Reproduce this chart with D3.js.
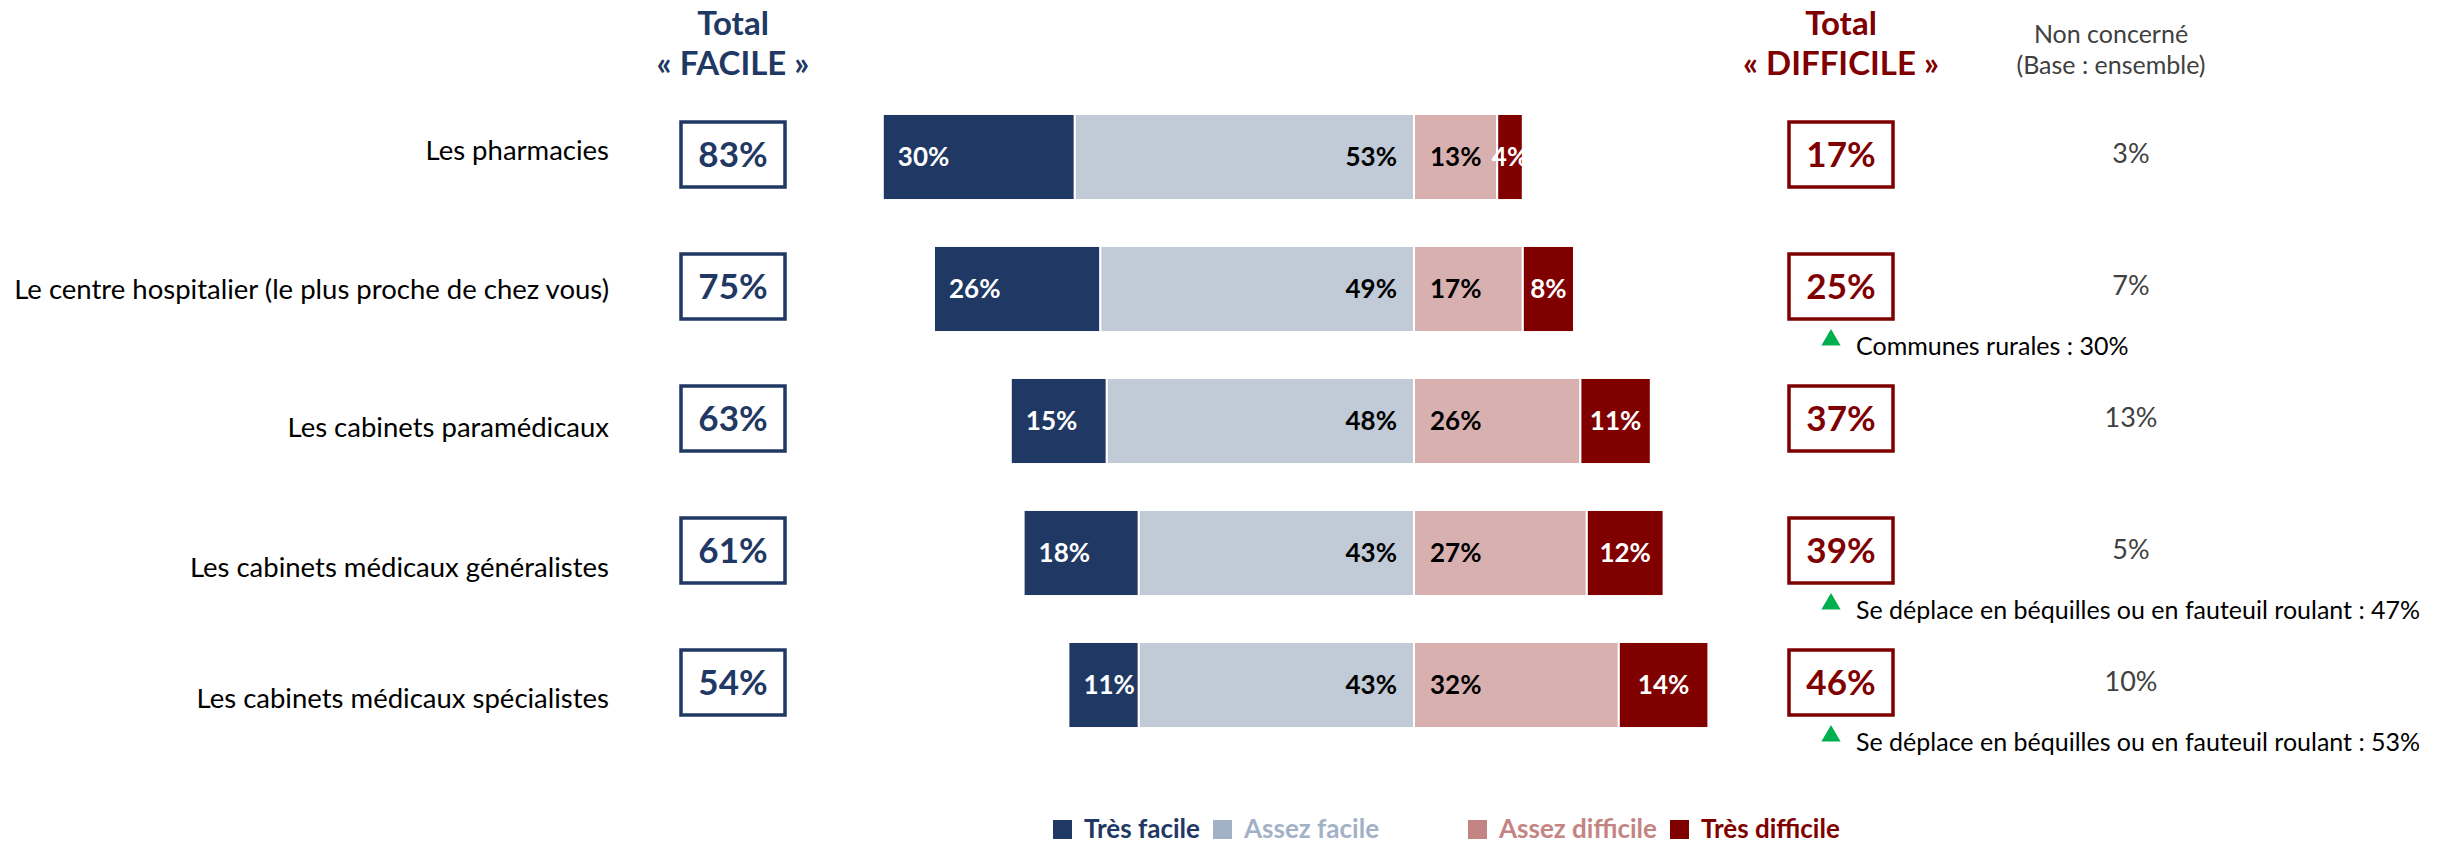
<!DOCTYPE html>
<html>
<head>
<meta charset="utf-8">
<script src="https://cdn.jsdelivr.net/npm/d3@7"></script>
<style>
  body { margin: 0; background: #fff; }
  svg text { font-family: Lato, "Open Sans", sans-serif; }
</style>
</head>
<body>
<svg id="chart"></svg>
<script>
const categories = [
  "Les pharmacies",
  "Le centre hospitalier (le plus proche de chez vous)",
  "Les cabinets paramédicaux",
  "Les cabinets médicaux généralistes",
  "Les cabinets médicaux spécialistes"
];
const tresFacile = [30, 26, 15, 18, 11];
const assezFacile = [53, 49, 48, 43, 43];
const assezDifficile = [13, 17, 26, 27, 32];
const tresDifficile = [4, 8, 11, 12, 14];
const totalFacile = [83, 75, 63, 61, 54];
const totalDifficile = [17, 25, 37, 39, 46];
const nonConcerne = [3, 7, 13, 5, 10];
const notes = [
  null,
  "Communes rurales : 30%",
  null,
  "Se déplace en béquilles ou en fauteuil roulant : 47%",
  "Se déplace en béquilles ou en fauteuil roulant : 53%"
];
const seriesNames = ["Très facile", "Assez facile", "Assez difficile", "Très difficile"];

const width = 2450, height = 845;
const navy = "#1f3864", darkRed = "#7f0000";
const barColors = ["#203864", "#c1cad7", "#d9b0b0", "#800000"];
const legendColors = ["#203864", "#a3b1c6", "#c48483", "#800000"];
const labelOffset = [-7, 0, 6, 14, 13]; // category labels sit a bit off-centre in the original

const svg = d3.select("#chart").attr("width", width).attr("height", height);

const x = d3.scaleLinear().domain([-100, 100]).range([774, 2054]);
const y = d3.scaleBand().domain(categories).range([91, 751])
  .paddingInner(0.348).paddingOuter(0.174);
const bw = y.bandwidth();
const cy = d => y(d) + bw / 2;

// stacked segments, negative side for "facile"
const rows = categories.map((c, i) => ({
  cat: c, i,
  segs: [
    { s: 0, x0: -(tresFacile[i] + assezFacile[i]), x1: -assezFacile[i], v: tresFacile[i] },
    { s: 1, x0: -assezFacile[i], x1: 0, v: assezFacile[i] },
    { s: 2, x0: 0, x1: assezDifficile[i], v: assezDifficile[i] },
    { s: 3, x0: assezDifficile[i], x1: assezDifficile[i] + tresDifficile[i], v: tresDifficile[i] }
  ]
}));

const g = svg.selectAll("g.row").data(rows).join("g").attr("class", "row");

g.selectAll("rect")
  .data(d => d.segs.map(s => ({ ...s, cat: d.cat })))
  .join("rect")
  .attr("x", d => x(d.x0))
  .attr("width", d => x(d.x1) - x(d.x0))
  .attr("y", d => y(d.cat))
  .attr("height", bw)
  .attr("fill", d => barColors[d.s])
  .attr("stroke", "white")
  .attr("stroke-width", 2);

g.selectAll("text.val")
  .data(d => d.segs.map(s => ({ ...s, cat: d.cat })))
  .join("text")
  .attr("class", "val")
  .attr("x", d => {
    if (d.s === 0) return x(d.x0) + 15;
    if (d.s === 1) return x(0) - 17;
    if (d.s === 2) return x(0) + 16;
    return (x(d.x0) + x(d.x1)) / 2;
  })
  .attr("y", d => cy(d.cat))
  .attr("dy", "0.35em")
  .attr("text-anchor", d => d.s === 0 || d.s === 2 ? "start" : d.s === 1 ? "end" : "middle")
  .attr("fill", d => d.s === 0 || d.s === 3 ? "white" : "black")
  .style("font-weight", "bold")
  .style("font-size", "26px")
  .text(d => d.v + "%");

// category labels
svg.selectAll("text.cat")
  .data(categories)
  .join("text")
  .attr("class", "cat")
  .attr("x", 609)
  .attr("y", (d, i) => cy(d) + labelOffset[i])
  .attr("dy", "0.35em")
  .attr("text-anchor", "end")
  .style("font-size", "27.5px")
  .attr("fill", "#000")
  .text(d => d);

// total boxes
function totalBox(vals, x0, color) {
  const bx = svg.append("g");
  bx.selectAll("rect")
    .data(categories)
    .join("rect")
    .attr("x", x0)
    .attr("y", d => cy(d) - 35)
    .attr("width", 104)
    .attr("height", 65)
    .attr("fill", "white")
    .attr("stroke", color)
    .attr("stroke-width", 3.5);
  bx.selectAll("text")
    .data(categories)
    .join("text")
    .attr("x", x0 + 52)
    .attr("y", d => cy(d) - 2)
    .attr("dy", "0.35em")
    .attr("text-anchor", "middle")
    .attr("fill", color)
    .style("font-weight", "bold")
    .style("font-size", "35px")
    .text((d, i) => vals[i] + "%");
}
totalBox(totalFacile, 681, navy);
totalBox(totalDifficile, 1789, darkRed);

// non concerné
svg.selectAll("text.nc")
  .data(categories)
  .join("text")
  .attr("class", "nc")
  .attr("x", 2131)
  .attr("y", d => cy(d) - 3)
  .attr("dy", "0.35em")
  .attr("text-anchor", "middle")
  .attr("fill", "#404040")
  .style("font-size", "27px")
  .text((d, i) => nonConcerne[i] + "%");

// headers
const headers = [
  { x: 733, lines: ["Total", "« FACILE »"], color: navy, bold: true, size: 33, ys: [35, 75] },
  { x: 1841, lines: ["Total", "« DIFFICILE »"], color: darkRed, bold: true, size: 33, ys: [35, 75] },
  { x: 2111, lines: ["Non concerné", "(Base : ensemble)"], color: "#404040", bold: false, size: 25, ys: [43, 74] }
];
headers.forEach(h => {
  svg.selectAll(null)
    .data(h.lines)
    .join("text")
    .attr("x", h.x)
    .attr("y", (d, i) => h.ys[i])
    .attr("text-anchor", "middle")
    .attr("fill", h.color)
    .style("font-weight", h.bold ? "bold" : "normal")
    .style("font-size", h.size + "px")
    .text(d => d);
});

// notes with green triangles
const noteData = categories.map((c, i) => ({ c, t: notes[i] })).filter(d => d.t);
const ng = svg.selectAll("g.note").data(noteData).join("g")
  .attr("class", "note")
  .attr("transform", d => `translate(1822, ${cy(d.c) + 66})`);
ng.append("path")
  .attr("d", d3.symbol().type(d3.symbolTriangle).size(160))
  .attr("transform", "translate(9, -15)")
  .attr("fill", "#00b050");
ng.append("text")
  .attr("x", 34)
  .attr("y", 0)
  .style("font-size", "25px")
  .attr("fill", "#000")
  .text(d => d.t);

// legend
const legendX = [1053, 1213, 1468, 1670];
const lg = svg.selectAll("g.legend").data(seriesNames).join("g")
  .attr("class", "legend")
  .attr("transform", (d, i) => `translate(${legendX[i]}, 820)`);
lg.append("rect").attr("width", 19).attr("height", 19).attr("fill", (d, i) => legendColors[i]);
lg.append("text")
  .attr("x", 31)
  .attr("y", 18)
  .attr("fill", (d, i) => legendColors[i])
  .style("font-weight", "bold")
  .style("font-size", "26px")
  .text(d => d);
</script>
</body>
</html>
